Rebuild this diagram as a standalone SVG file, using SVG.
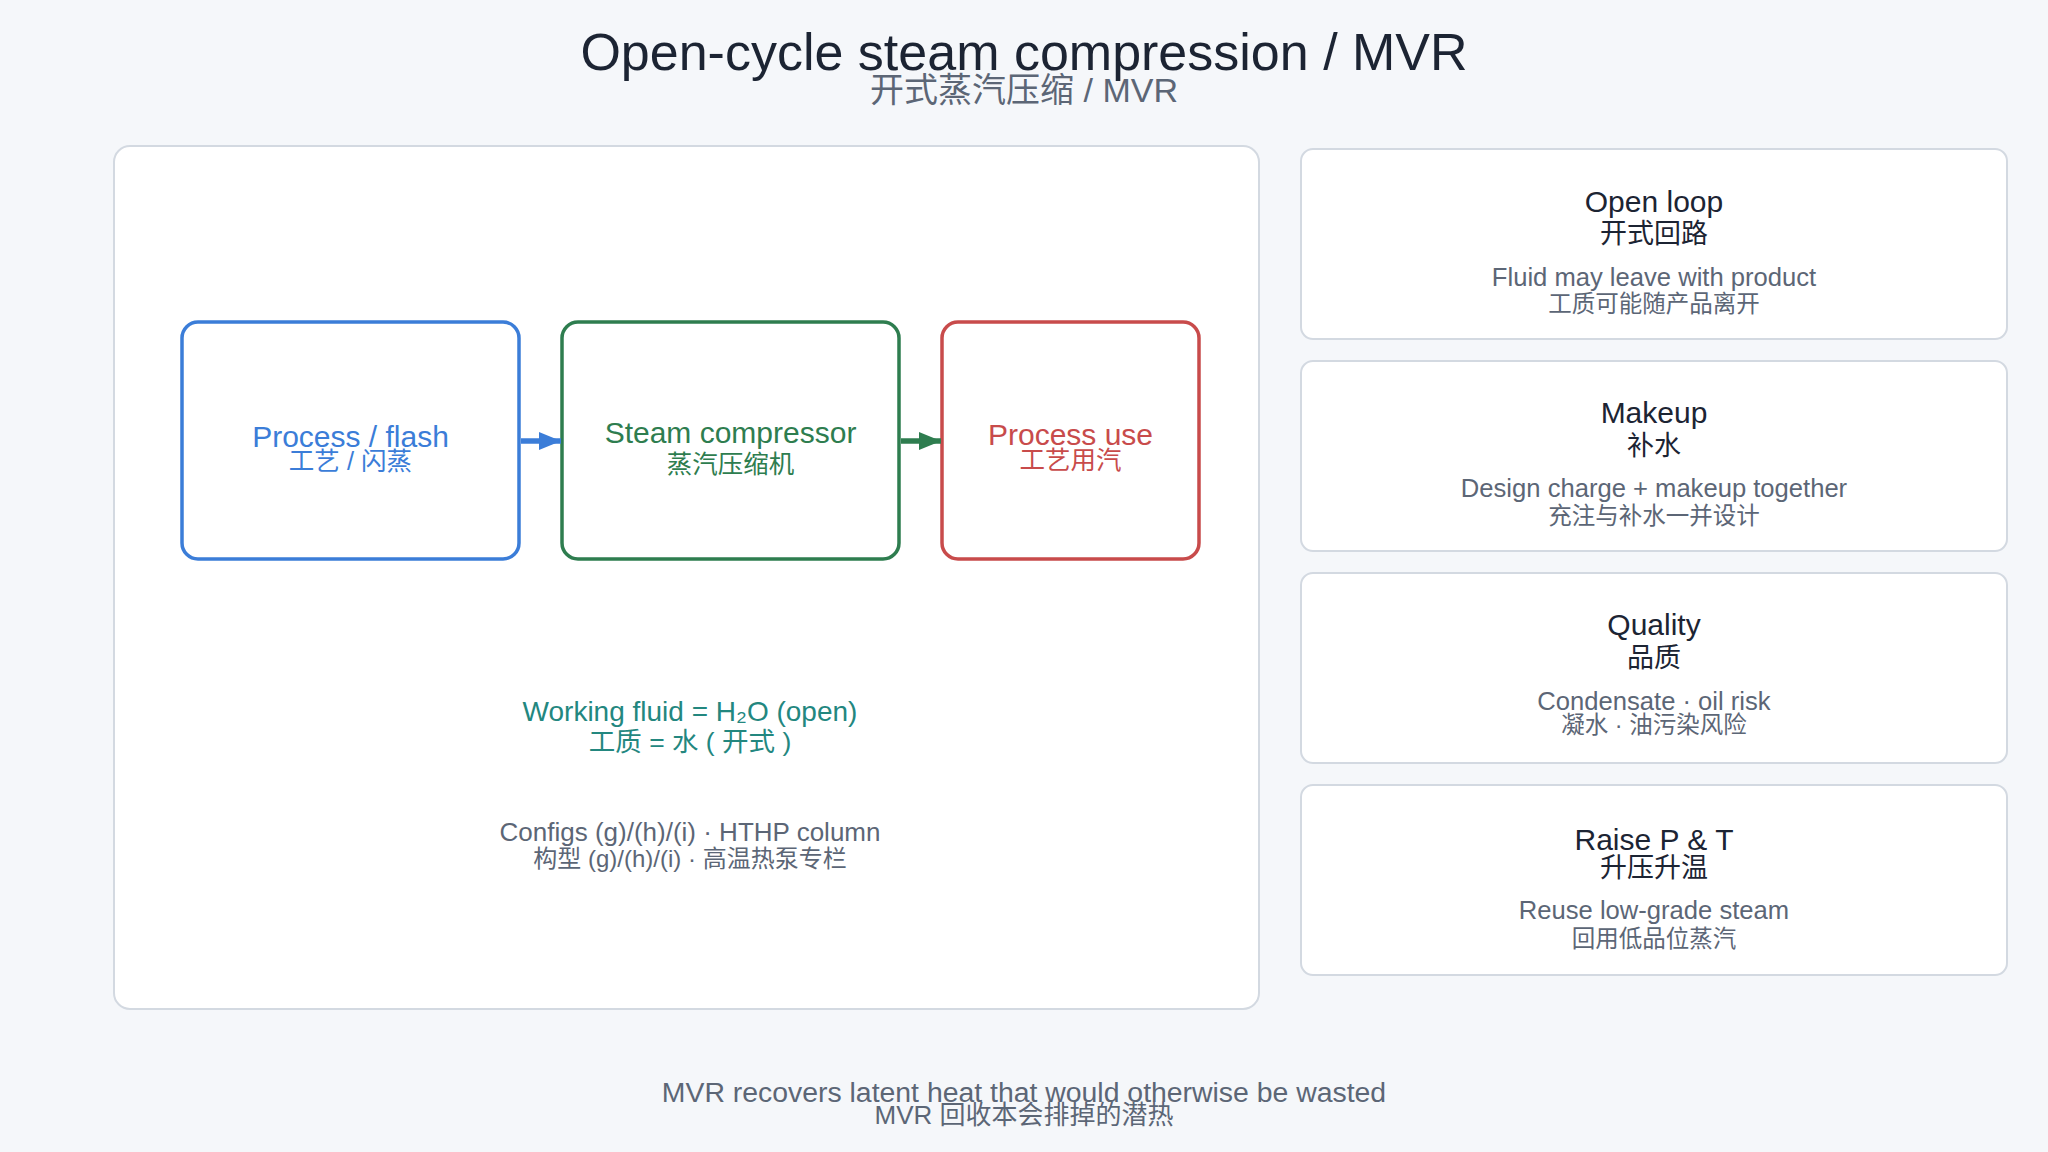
<svg xmlns="http://www.w3.org/2000/svg" width="2048" height="1152" viewBox="0 0 2048 1152">
  <style>
    text { font-family: "Liberation Sans", "Noto Sans CJK SC", sans-serif; text-anchor: middle; }
    .title { font-size: 52px; fill: #1c2433; }
    .subtitle { font-size: 34px; fill: #5c6676; }
    .panel { fill: #ffffff; stroke: #d3d9e1; stroke-width: 2; }
    .node { fill: #ffffff; stroke-width: 3.5; }
    .nen { font-size: 30px; }
    .ncn { font-size: 25.5px; }
    .blue { fill: #3b7dd8; }
    .green { fill: #2e7d4f; }
    .red { fill: #c84b4b; }
    .teal { fill: #23877f; }
    .grey { fill: #5c6676; }
    .dark { fill: #1c2433; }
    .ctitle { font-size: 30px; }
    .ccn { font-size: 27px; }
    .cdesc { font-size: 25.6px; }
    .cdcn { font-size: 23.5px; }
    .note { font-size: 26px; }
    .notecn { font-size: 24px; }
    .wf { font-size: 28px; }
    .wfcn { font-size: 26.5px; }
    .foot { font-size: 28.4px; }
    .footcn { font-size: 26px; }
  </style>
  <defs>
    <marker id="arrBlue" viewBox="0 0 22 18" markerWidth="22" markerHeight="18" refX="22" refY="9" orient="auto" markerUnits="userSpaceOnUse">
      <path d="M0,0 L22,9 L0,18 Z" fill="#3b7dd8"/>
    </marker>
    <marker id="arrGreen" viewBox="0 0 22 18" markerWidth="22" markerHeight="18" refX="22" refY="9" orient="auto" markerUnits="userSpaceOnUse">
      <path d="M0,0 L22,9 L0,18 Z" fill="#2e7d4f"/>
    </marker>
  </defs>

  <rect x="0" y="0" width="2048" height="1152" fill="#f5f7fa"/>

  <g id="header">
    <text class="title" x="1024" y="70">Open-cycle steam compression / MVR</text>
    <text class="subtitle" x="1024" y="102">开式蒸汽压缩 / MVR</text>
  </g>

  <g id="main-panel">
    <rect class="panel" x="114" y="146" width="1145" height="863" rx="16"/>
  </g>

  <g id="node-process-flash">
    <rect class="node" x="182" y="322" width="337" height="237" rx="16" stroke="#3b7dd8"/>
    <text class="nen blue" x="350.5" y="447">Process / flash</text>
    <text class="ncn blue" x="350.5" y="470">工艺 / 闪蒸</text>
  </g>

  <g id="node-steam-compressor">
    <rect class="node" x="562" y="322" width="337" height="237" rx="16" stroke="#2e7d4f"/>
    <text class="nen green" x="730.5" y="443">Steam compressor</text>
    <text class="ncn green" x="730.5" y="473">蒸汽压缩机</text>
  </g>

  <g id="node-process-use">
    <rect class="node" x="942" y="322" width="257" height="237" rx="16" stroke="#c84b4b"/>
    <text class="nen red" x="1070.5" y="445">Process use</text>
    <text class="ncn red" x="1070.5" y="469">工艺用汽</text>
  </g>

  <g id="connectors">
    <line x1="521" y1="441" x2="561" y2="441" stroke="#3b7dd8" stroke-width="5.5" marker-end="url(#arrBlue)"/>
    <line x1="901" y1="441" x2="941" y2="441" stroke="#2e7d4f" stroke-width="5.5" marker-end="url(#arrGreen)"/>
  </g>

  <g id="panel-notes">
    <text class="wf teal" x="690" y="721">Working fluid = H₂O (open)</text>
    <text class="wfcn teal" x="690" y="751">工质 = 水 ( 开式 )</text>
    <text class="note grey" x="690" y="841">Configs (g)/(h)/(i) · HTHP column</text>
    <text class="notecn grey" x="690" y="867">构型 (g)/(h)/(i) · 高温热泵专栏</text>
  </g>

  <g id="card-open-loop">
    <rect class="panel" x="1301" y="149" width="706" height="190" rx="12"/>
    <text class="ctitle dark" x="1654" y="212">Open loop</text>
    <text class="ccn dark" x="1654" y="243">开式回路</text>
    <text class="cdesc grey" x="1654" y="286">Fluid may leave with product</text>
    <text class="cdcn grey" x="1654" y="312">工质可能随产品离开</text>
  </g>

  <g id="card-makeup">
    <rect class="panel" x="1301" y="361" width="706" height="190" rx="12"/>
    <text class="ctitle dark" x="1654" y="423">Makeup</text>
    <text class="ccn dark" x="1654" y="455">补水</text>
    <text class="cdesc grey" x="1654" y="497">Design charge + makeup together</text>
    <text class="cdcn grey" x="1654" y="524">充注与补水一并设计</text>
  </g>

  <g id="card-quality">
    <rect class="panel" x="1301" y="573" width="706" height="190" rx="12"/>
    <text class="ctitle dark" x="1654" y="635">Quality</text>
    <text class="ccn dark" x="1654" y="667">品质</text>
    <text class="cdesc grey" x="1654" y="710">Condensate · oil risk</text>
    <text class="cdcn grey" x="1654" y="733">凝水 · 油污染风险</text>
  </g>

  <g id="card-raise">
    <rect class="panel" x="1301" y="785" width="706" height="190" rx="12"/>
    <text class="ctitle dark" x="1654" y="850">Raise P &amp; T</text>
    <text class="ccn dark" x="1654" y="877">升压升温</text>
    <text class="cdesc grey" x="1654" y="919">Reuse low-grade steam</text>
    <text class="cdcn grey" x="1654" y="947">回用低品位蒸汽</text>
  </g>

  <g id="footer">
    <text class="foot grey" x="1024" y="1102">MVR recovers latent heat that would otherwise be wasted</text>
    <text class="footcn grey" x="1024" y="1124">MVR 回收本会排掉的潜热</text>
  </g>
</svg>
